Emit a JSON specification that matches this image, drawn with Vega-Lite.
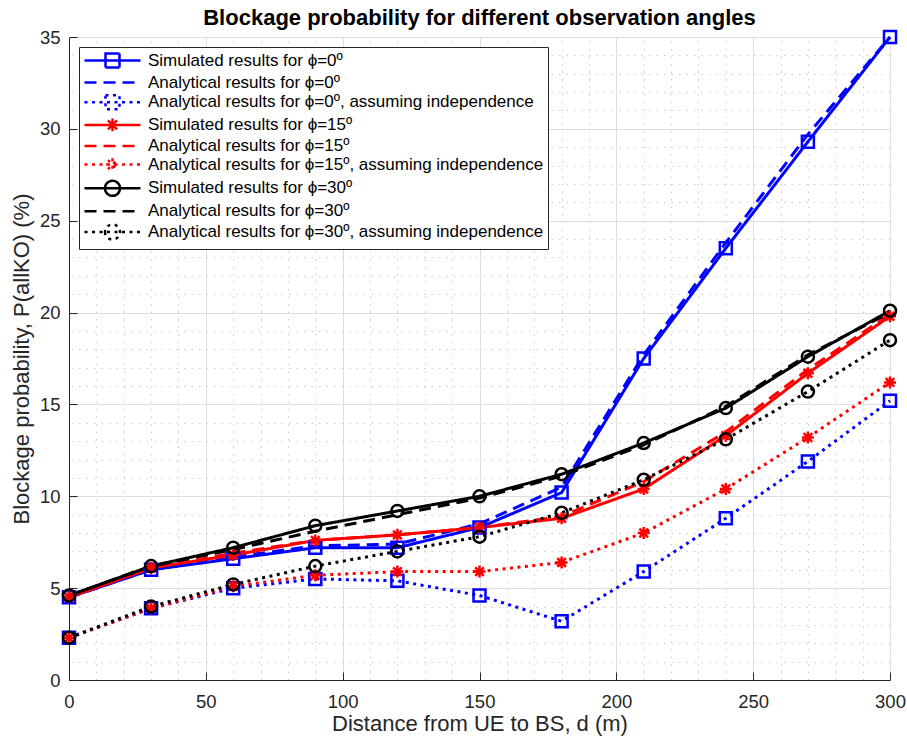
{
  "$schema": "https://vega.github.io/schema/vega-lite/v6.json",
  "width": 821,
  "height": 643,
  "autosize": {"type": "none"},
  "padding": {"left": 69, "top": 37, "right": 17, "bottom": 60},
  "background": "white",
  "title": {"text": "Blockage probability for different observation angles", "font": "Liberation Sans", "fontSize": 22, "fontWeight": "bold", "color": "#000000", "anchor": "middle", "offset": -4},
  "config": {"view": {"stroke": null}, "font": "Liberation Sans", "legend": {"strokeWidth": 1}},
  "data": {"values": [
    {"d": 0, "p": 4.5, "series": "Simulated results for ϕ=0º"},
    {"d": 30, "p": 6.0, "series": "Simulated results for ϕ=0º"},
    {"d": 60, "p": 6.6, "series": "Simulated results for ϕ=0º"},
    {"d": 90, "p": 7.2, "series": "Simulated results for ϕ=0º"},
    {"d": 120, "p": 7.2, "series": "Simulated results for ϕ=0º"},
    {"d": 150, "p": 8.3, "series": "Simulated results for ϕ=0º"},
    {"d": 180, "p": 10.2, "series": "Simulated results for ϕ=0º"},
    {"d": 210, "p": 17.5, "series": "Simulated results for ϕ=0º"},
    {"d": 240, "p": 23.5, "series": "Simulated results for ϕ=0º"},
    {"d": 270, "p": 29.3, "series": "Simulated results for ϕ=0º"},
    {"d": 300, "p": 35.0, "series": "Simulated results for ϕ=0º"},
    {"d": 0, "p": 4.5, "series": "Analytical results for ϕ=0º"},
    {"d": 30, "p": 6.0, "series": "Analytical results for ϕ=0º"},
    {"d": 60, "p": 6.7, "series": "Analytical results for ϕ=0º"},
    {"d": 90, "p": 7.3, "series": "Analytical results for ϕ=0º"},
    {"d": 120, "p": 7.4, "series": "Analytical results for ϕ=0º"},
    {"d": 150, "p": 8.5, "series": "Analytical results for ϕ=0º"},
    {"d": 180, "p": 10.5, "series": "Analytical results for ϕ=0º"},
    {"d": 210, "p": 17.7, "series": "Analytical results for ϕ=0º"},
    {"d": 240, "p": 23.8, "series": "Analytical results for ϕ=0º"},
    {"d": 270, "p": 29.7, "series": "Analytical results for ϕ=0º"},
    {"d": 300, "p": 35.0, "series": "Analytical results for ϕ=0º"},
    {"d": 0, "p": 2.3, "series": "Analytical results for ϕ=0º, assuming independence"},
    {"d": 30, "p": 3.9, "series": "Analytical results for ϕ=0º, assuming independence"},
    {"d": 60, "p": 5.0, "series": "Analytical results for ϕ=0º, assuming independence"},
    {"d": 90, "p": 5.5, "series": "Analytical results for ϕ=0º, assuming independence"},
    {"d": 120, "p": 5.4, "series": "Analytical results for ϕ=0º, assuming independence"},
    {"d": 150, "p": 4.6, "series": "Analytical results for ϕ=0º, assuming independence"},
    {"d": 180, "p": 3.2, "series": "Analytical results for ϕ=0º, assuming independence"},
    {"d": 210, "p": 5.9, "series": "Analytical results for ϕ=0º, assuming independence"},
    {"d": 240, "p": 8.8, "series": "Analytical results for ϕ=0º, assuming independence"},
    {"d": 270, "p": 11.9, "series": "Analytical results for ϕ=0º, assuming independence"},
    {"d": 300, "p": 15.2, "series": "Analytical results for ϕ=0º, assuming independence"},
    {"d": 0, "p": 4.5, "series": "Simulated results for ϕ=15º"},
    {"d": 30, "p": 6.1, "series": "Simulated results for ϕ=15º"},
    {"d": 60, "p": 6.8, "series": "Simulated results for ϕ=15º"},
    {"d": 90, "p": 7.6, "series": "Simulated results for ϕ=15º"},
    {"d": 120, "p": 7.9, "series": "Simulated results for ϕ=15º"},
    {"d": 150, "p": 8.3, "series": "Simulated results for ϕ=15º"},
    {"d": 180, "p": 8.8, "series": "Simulated results for ϕ=15º"},
    {"d": 210, "p": 10.4, "series": "Simulated results for ϕ=15º"},
    {"d": 240, "p": 13.3, "series": "Simulated results for ϕ=15º"},
    {"d": 270, "p": 16.7, "series": "Simulated results for ϕ=15º"},
    {"d": 300, "p": 19.8, "series": "Simulated results for ϕ=15º"},
    {"d": 0, "p": 4.5, "series": "Analytical results for ϕ=15º"},
    {"d": 30, "p": 6.1, "series": "Analytical results for ϕ=15º"},
    {"d": 60, "p": 6.9, "series": "Analytical results for ϕ=15º"},
    {"d": 90, "p": 7.6, "series": "Analytical results for ϕ=15º"},
    {"d": 120, "p": 7.9, "series": "Analytical results for ϕ=15º"},
    {"d": 150, "p": 8.3, "series": "Analytical results for ϕ=15º"},
    {"d": 180, "p": 8.9, "series": "Analytical results for ϕ=15º"},
    {"d": 210, "p": 10.8, "series": "Analytical results for ϕ=15º"},
    {"d": 240, "p": 13.5, "series": "Analytical results for ϕ=15º"},
    {"d": 270, "p": 16.9, "series": "Analytical results for ϕ=15º"},
    {"d": 300, "p": 19.9, "series": "Analytical results for ϕ=15º"},
    {"d": 0, "p": 2.3, "series": "Analytical results for ϕ=15º, assuming independence"},
    {"d": 30, "p": 3.9, "series": "Analytical results for ϕ=15º, assuming independence"},
    {"d": 60, "p": 5.1, "series": "Analytical results for ϕ=15º, assuming independence"},
    {"d": 90, "p": 5.7, "series": "Analytical results for ϕ=15º, assuming independence"},
    {"d": 120, "p": 5.9, "series": "Analytical results for ϕ=15º, assuming independence"},
    {"d": 150, "p": 5.9, "series": "Analytical results for ϕ=15º, assuming independence"},
    {"d": 180, "p": 6.4, "series": "Analytical results for ϕ=15º, assuming independence"},
    {"d": 210, "p": 8.0, "series": "Analytical results for ϕ=15º, assuming independence"},
    {"d": 240, "p": 10.4, "series": "Analytical results for ϕ=15º, assuming independence"},
    {"d": 270, "p": 13.2, "series": "Analytical results for ϕ=15º, assuming independence"},
    {"d": 300, "p": 16.2, "series": "Analytical results for ϕ=15º, assuming independence"},
    {"d": 0, "p": 4.6, "series": "Simulated results for ϕ=30º"},
    {"d": 30, "p": 6.2, "series": "Simulated results for ϕ=30º"},
    {"d": 60, "p": 7.2, "series": "Simulated results for ϕ=30º"},
    {"d": 90, "p": 8.4, "series": "Simulated results for ϕ=30º"},
    {"d": 120, "p": 9.2, "series": "Simulated results for ϕ=30º"},
    {"d": 150, "p": 10.0, "series": "Simulated results for ϕ=30º"},
    {"d": 180, "p": 11.2, "series": "Simulated results for ϕ=30º"},
    {"d": 210, "p": 12.9, "series": "Simulated results for ϕ=30º"},
    {"d": 240, "p": 14.8, "series": "Simulated results for ϕ=30º"},
    {"d": 270, "p": 17.6, "series": "Simulated results for ϕ=30º"},
    {"d": 300, "p": 20.1, "series": "Simulated results for ϕ=30º"},
    {"d": 0, "p": 4.6, "series": "Analytical results for ϕ=30º"},
    {"d": 30, "p": 6.2, "series": "Analytical results for ϕ=30º"},
    {"d": 60, "p": 7.1, "series": "Analytical results for ϕ=30º"},
    {"d": 90, "p": 8.1, "series": "Analytical results for ϕ=30º"},
    {"d": 120, "p": 9.0, "series": "Analytical results for ϕ=30º"},
    {"d": 150, "p": 9.9, "series": "Analytical results for ϕ=30º"},
    {"d": 180, "p": 11.1, "series": "Analytical results for ϕ=30º"},
    {"d": 210, "p": 12.8, "series": "Analytical results for ϕ=30º"},
    {"d": 240, "p": 14.9, "series": "Analytical results for ϕ=30º"},
    {"d": 270, "p": 17.7, "series": "Analytical results for ϕ=30º"},
    {"d": 300, "p": 20.0, "series": "Analytical results for ϕ=30º"},
    {"d": 0, "p": 2.3, "series": "Analytical results for ϕ=30º, assuming independence"},
    {"d": 30, "p": 4.0, "series": "Analytical results for ϕ=30º, assuming independence"},
    {"d": 60, "p": 5.2, "series": "Analytical results for ϕ=30º, assuming independence"},
    {"d": 90, "p": 6.2, "series": "Analytical results for ϕ=30º, assuming independence"},
    {"d": 120, "p": 7.0, "series": "Analytical results for ϕ=30º, assuming independence"},
    {"d": 150, "p": 7.8, "series": "Analytical results for ϕ=30º, assuming independence"},
    {"d": 180, "p": 9.1, "series": "Analytical results for ϕ=30º, assuming independence"},
    {"d": 210, "p": 10.9, "series": "Analytical results for ϕ=30º, assuming independence"},
    {"d": 240, "p": 13.1, "series": "Analytical results for ϕ=30º, assuming independence"},
    {"d": 270, "p": 15.7, "series": "Analytical results for ϕ=30º, assuming independence"},
    {"d": 300, "p": 18.5, "series": "Analytical results for ϕ=30º, assuming independence"}
  ]},
  "layer": [
    {
      "mark": {"type": "line", "strokeWidth": 3, "strokeCap": "butt", "strokeJoin": "miter"},
      "encoding": {
        "x": {"field": "d", "type": "quantitative", "scale": {"domain": [0, 300], "nice": false, "zero": false},
          "axis": {"values": [0, 50, 100, 150, 200, 250, 300], "grid": true, "gridColor": "#dedede", "gridWidth": 1,
            "domainColor": "#262626", "domainWidth": 1, "tickColor": "#262626", "tickWidth": 1, "tickSize": -8,
            "labelFont": "Liberation Sans", "labelFontSize": 18.5, "labelColor": "#262626", "labelPadding": 20, "labelFlush": false, "labelOverlap": false,
            "title": "Distance from UE to BS, d (m)", "titleFont": "Liberation Sans", "titleFontSize": 22, "titleFontWeight": "normal", "titleColor": "#262626", "titlePadding": 3}},
        "y": {"field": "p", "type": "quantitative", "scale": {"domain": [0, 35], "nice": false, "zero": false},
          "axis": {"values": [0, 5, 10, 15, 20, 25, 30, 35], "grid": true, "gridColor": "#dedede", "gridWidth": 1,
            "domainColor": "#262626", "domainWidth": 1, "tickColor": "#262626", "tickWidth": 1, "tickSize": -8,
            "labelFont": "Liberation Sans", "labelFontSize": 18.5, "labelColor": "#262626", "labelPadding": 17, "labelFlush": false, "labelOverlap": false,
            "title": "Blockage probability, P(allKO) (%)", "titleFont": "Liberation Sans", "titleFontSize": 22, "titleFontWeight": "normal", "titleColor": "#262626", "titlePadding": 6}},
        "color": {"field": "series", "type": "nominal",
          "scale": {"domain": ["Simulated results for ϕ=0º", "Analytical results for ϕ=0º", "Analytical results for ϕ=0º, assuming independence", "Simulated results for ϕ=15º", "Analytical results for ϕ=15º", "Analytical results for ϕ=15º, assuming independence", "Simulated results for ϕ=30º", "Analytical results for ϕ=30º", "Analytical results for ϕ=30º, assuming independence"],
            "range": ["#0000ff", "#0000ff", "#0000ff", "#ff0000", "#ff0000", "#ff0000", "#000000", "#000000", "#000000"]},
          "legend": {"title": null, "orient": "top-left", "offset": 10, "fillColor": "#ffffff", "strokeColor": "#262626", "padding": 4,
            "rowPadding": -1.3, "labelFont": "Liberation Sans", "labelFontSize": 17, "labelColor": "#000000", "labelOffset": 46, "labelLimit": 600,
            "symbolSize": 256, "symbolStrokeWidth": 2.5,
            "encode": {"symbols": {"update": {
              "shape": {"signal": "['M-1,0H6M1.625,-0.875H3.375V0.875H1.625Z','M-1,0H6','M-1,0H6M1.625,-0.875H3.375V0.875H1.625Z','M-1,0H6M1.7,0H3.3M2.5,-0.8V0.8M1.93,-0.57L3.07,0.57M1.93,0.57L3.07,-0.57','M-1,0H6','M-1,0H6M1.7,0H3.3M2.5,-0.8V0.8M1.93,-0.57L3.07,0.57M1.93,0.57L3.07,-0.57','M-1,0H6M1.56,0A0.94,0.94,0,1,0,3.44,0A0.94,0.94,0,1,0,1.56,0Z','M-1,0H6','M-1,0H6M1.56,0A0.94,0.94,0,1,0,3.44,0A0.94,0.94,0,1,0,1.56,0Z'][datum.index]"},
              "strokeDash": {"signal": "[[1,0],[14,16],[3,4],[1,0],[14,16],[3,4],[1,0],[14,16],[3,4]][datum.index]"},
              "fill": {"value": "transparent"},
              "strokeWidth": {"value": 2.5},
              "opacity": {"value": 1}
            }}}}},
        "strokeDash": {"field": "series", "type": "nominal",
          "scale": {"domain": ["Simulated results for ϕ=0º", "Analytical results for ϕ=0º", "Analytical results for ϕ=0º, assuming independence", "Simulated results for ϕ=15º", "Analytical results for ϕ=15º", "Analytical results for ϕ=15º, assuming independence", "Simulated results for ϕ=30º", "Analytical results for ϕ=30º", "Analytical results for ϕ=30º, assuming independence"],
            "range": [[1, 0], [12, 7], [3, 4.5], [1, 0], [12, 7], [3, 4.5], [1, 0], [12, 7], [3, 4.5]]},
          "legend": null}
      }
    },
    {
      "transform": [{"filter": {"field": "series", "oneOf": ["Simulated results for ϕ=0º", "Analytical results for ϕ=0º, assuming independence", "Simulated results for ϕ=15º", "Analytical results for ϕ=15º, assuming independence", "Simulated results for ϕ=30º", "Analytical results for ϕ=30º, assuming independence"]}}],
      "mark": {"type": "point", "filled": false, "strokeWidth": 2.5, "opacity": 1},
      "encoding": {
        "x": {"field": "d", "type": "quantitative", "scale": {"domain": [0, 300], "nice": false, "zero": false},
          "axis": {"orient": "top", "values": [10, 20, 30, 40, 60, 70, 80, 90, 110, 120, 130, 140, 160, 170, 180, 190, 210, 220, 230, 240, 260, 270, 280, 290],
            "grid": true, "gridDash": [1.5, 6], "gridColor": "#cccccc", "gridWidth": 1, "labels": false, "ticks": false, "domain": false, "title": null}},
        "y": {"field": "p", "type": "quantitative", "scale": {"domain": [0, 35], "nice": false, "zero": false},
          "axis": {"orient": "right", "values": [1, 2, 3, 4, 6, 7, 8, 9, 11, 12, 13, 14, 16, 17, 18, 19, 21, 22, 23, 24, 26, 27, 28, 29, 31, 32, 33, 34],
            "grid": true, "gridDash": [1.5, 6], "gridColor": "#cccccc", "gridWidth": 1, "labels": false, "ticks": false, "domain": false, "title": null}},
        "color": {"field": "series", "type": "nominal"},
        "shape": {"field": "series", "type": "nominal",
          "scale": {"domain": ["Simulated results for ϕ=0º", "Analytical results for ϕ=0º, assuming independence", "Simulated results for ϕ=15º", "Analytical results for ϕ=15º, assuming independence", "Simulated results for ϕ=30º", "Analytical results for ϕ=30º, assuming independence"],
            "range": ["square", "square", "M-1,0H1M0,-1V1M-0.72,-0.72L0.72,0.72M-0.72,0.72L0.72,-0.72", "M-1,0H1M0,-1V1M-0.72,-0.72L0.72,0.72M-0.72,0.72L0.72,-0.72", "circle", "circle"]},
          "legend": null},
        "size": {"field": "series", "type": "nominal",
          "scale": {"domain": ["Simulated results for ϕ=0º", "Analytical results for ϕ=0º, assuming independence", "Simulated results for ϕ=15º", "Analytical results for ϕ=15º, assuming independence", "Simulated results for ϕ=30º", "Analytical results for ϕ=30º, assuming independence"],
            "range": [144, 144, 225, 225, 210, 210]},
          "legend": null}
      }
    }
  ],
  "resolve": {"axis": {"x": "independent", "y": "independent"}}
}
